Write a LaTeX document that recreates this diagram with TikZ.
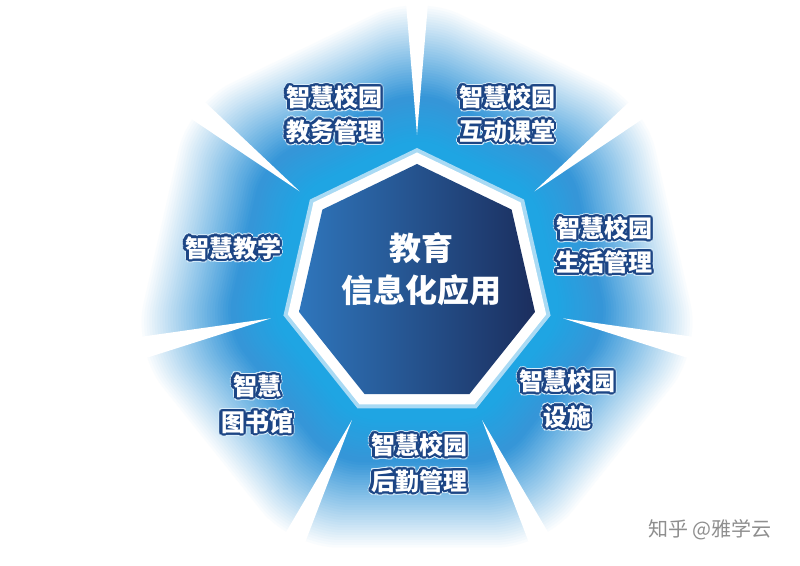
\documentclass[tikz,border=0pt]{standalone}
\usepackage{fontspec}
\newfontfamily\cjk{Noto Sans CJK SC}
\definecolor{cyanb}{HTML}{1FA5E3}
\definecolor{midb}{HTML}{3596D8}
\definecolor{olc}{HTML}{1C4585}
\definecolor{halo}{HTML}{DCEFFB}
\definecolor{hepL}{HTML}{2F76BC}
\definecolor{hepR}{HTML}{1B2E5E}
\definecolor{ringb}{HTML}{A9DAF4}
\definecolor{wm}{HTML}{8E8E8E}
\newcommand\heptpath[1]{(90:#1) -- (141.4286:#1) -- (192.8571:#1) -- (244.2857:#1) -- (295.7143:#1) -- (347.1429:#1) -- (38.5714:#1) -- cycle}
\newcommand\outl[1]{%
  \foreach \a in {0,22.5,...,337.5}{%
    \pgfmathsetlengthmacro\dx{3.2pt*cos(\a)}%
    \pgfmathsetlengthmacro\dy{3.2pt*sin(\a)}%
    \rlap{\kern\dx\raisebox{\dy}{\textcolor{halo}{#1}}}}%
  \foreach \a in {0,22.5,...,337.5}{%
    \pgfmathsetlengthmacro\dx{2.2pt*cos(\a)}%
    \pgfmathsetlengthmacro\dy{2.2pt*sin(\a)}%
    \rlap{\kern\dx\raisebox{\dy}{\textcolor{olc}{#1}}}}%
  \textcolor{white}{#1}}
\tikzset{
  lbl/.style={font=\cjk\bfseries\fontsize{24}{28}\selectfont, inner sep=0pt},
  ctr/.style={font=\cjk\bfseries\fontsize{32}{36}\selectfont, text=white, inner sep=0pt},
  wmark/.style={font=\cjk\fontsize{20}{24}\selectfont, text=wm, inner sep=0pt}
}
\begin{document}
\begin{tikzpicture}[x=1pt,y=1pt]
\useasboundingbox (0,0) rectangle (800,565);
\fill[white] (0,0) rectangle (800,565);
\begin{scope}[shift={(417,280)}]
  % fading sectors
  \foreach \d in {270,267.5,...,130}{%
    \pgfmathsetmacro\t{max(0,min(1,(265-\d)/87))}%
    \pgfmathsetmacro\p{100*\t}%
    \pgfmathsetmacro\q{max(0,min(100,(\d-135)*100/40))}%
    \colorlet{lc}{midb!\q!cyanb}%
    \colorlet{lc}{lc!\p!white}%
    \pgfmathsetmacro\r{\d/0.900969}%
    \pgfmathsetmacro\rc{0.16*\r}%
    \fill[lc, rounded corners=\rc pt] \heptpath{\r};
  }
  % white spikes
  \foreach \a in {90,141.4286,192.8571,244.2857,295.7143,347.1429,38.5714}{%
    \fill[white] (\a:150) -- ({\a+2.7}:345) -- ({\a-2.7}:345) -- cycle;
  }
  % central heptagon
  \fill[ringb] \heptpath{137};
  \fill[white] \heptpath{132.5};
  \shade[left color=hepL, right color=hepR] \heptpath{121};
\end{scope}
\node[ctr] (c1) at (421,317) {教育};
\node[ctr] (c2) at (421,275) {信息化应用};
\node[lbl] (l1a) at (334,468) {\outl{智慧校园}};
\node[lbl] (l1b) at (334,434) {\outl{教务管理}};
\node[lbl] (l2a) at (507,468) {\outl{智慧校园}};
\node[lbl] (l2b) at (507,434) {\outl{互动课堂}};
\node[lbl] (l3a) at (604,337) {\outl{智慧校园}};
\node[lbl] (l3b) at (604,303) {\outl{生活管理}};
\node[lbl] (l4) at (233,317) {\outl{智慧教学}};
\node[lbl] (l5a) at (257,179) {\outl{智慧}};
\node[lbl] (l5b) at (257,143) {\outl{图书馆}};
\node[lbl] (l6a) at (419,120) {\outl{智慧校园}};
\node[lbl] (l6b) at (419,84) {\outl{后勤管理}};
\node[lbl] (l7a) at (567,184) {\outl{智慧校园}};
\node[lbl] (l7b) at (567,148) {\outl{设施}};
\node[wmark] (wm) at (710,35) {知乎 @雅学云};
\end{tikzpicture}
\end{document}
